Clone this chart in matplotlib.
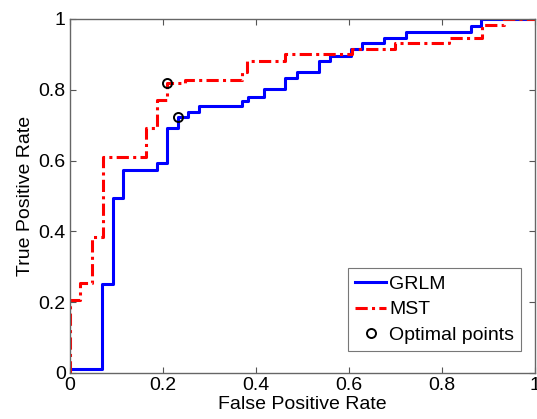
"""ROC curves for GRLM and MST with their optimal operating points."""
import matplotlib
matplotlib.use('Agg')
import matplotlib.pyplot as plt

plt.rcParams['font.family'] = ['Liberation Sans', 'DejaVu Sans']
plt.rcParams['font.size'] = 14

# GRLM curve (step vertices: y holds from x[i] to x[i+1])
grlm_fpr = [0, 0.069, 0.092, 0.114, 0.187, 0.209, 0.232, 0.254, 0.277, 0.370,
            0.383, 0.417, 0.462, 0.488, 0.535, 0.559, 0.604, 0.628, 0.675,
            0.723, 0.862, 0.884, 1.0]
grlm_tpr = [0.011, 0.251, 0.494, 0.573, 0.593, 0.692, 0.723, 0.737, 0.754, 0.768,
            0.780, 0.802, 0.833, 0.850, 0.881, 0.895, 0.915, 0.932, 0.946,
            0.963, 0.980, 1.0, 1.0]

# MST curve
mst_fpr = [0, 0, 0.0215, 0.047, 0.070, 0.163, 0.187, 0.209, 0.247, 0.370,
           0.380, 0.462, 0.606, 0.699, 0.815, 0.886, 0.933, 1.0]
mst_tpr = [0, 0.206, 0.254, 0.384, 0.610, 0.692, 0.771, 0.819, 0.828, 0.850,
           0.881, 0.901, 0.915, 0.932, 0.946, 0.983, 1.0, 1.0]

# Optimal operating points (GRLM, MST)
opt_fpr = [0.232, 0.209]
opt_tpr = [0.723, 0.819]

ticks = [0, 0.2, 0.4, 0.6, 0.8, 1]
tick_labels = ['0', '0.2', '0.4', '0.6', '0.8', '1']

fig = plt.figure(figsize=(5.37, 4.19), dpi=100)
ax = fig.add_axes([0.1304, 0.1098, 0.8659, 0.8449])

ax.plot(grlm_fpr, grlm_tpr, color='#0000ff', linewidth=2.2,
        drawstyle='steps-post', label='GRLM')
ax.plot(mst_fpr, mst_tpr, color='#ff0000', linewidth=2.2,
        drawstyle='steps-post', dashes=(4.0, 1.4, 1.0, 1.4), label='MST')
ax.plot(opt_fpr, opt_tpr, linestyle='none', marker='o', markersize=6.5,
        markerfacecolor='none', markeredgecolor='black', markeredgewidth=1.4,
        label='Optimal points')

ax.set_xlim(0, 1)
ax.set_ylim(0, 1)
ax.set_xticks(ticks)
ax.set_xticklabels(tick_labels)
ax.set_yticks(ticks)
ax.set_yticklabels(tick_labels)
ax.tick_params(direction='in', length=4, width=0.8, color='#555555',
               top=True, right=True, pad=3)
for spine in ax.spines.values():
    spine.set_color('#666666')
    spine.set_linewidth(1.0)

ax.set_xlabel('False Positive Rate', labelpad=1)
ax.set_ylabel('True Positive Rate', labelpad=3)

leg = ax.legend(loc='lower right', bbox_to_anchor=(0.97, 0.062),
                borderaxespad=0, fancybox=False, handlelength=1.6,
                handletextpad=0.15, labelspacing=0.42, borderpad=0.35)
leg.get_frame().set_edgecolor('#555555')
leg.get_frame().set_linewidth(0.8)

fig.savefig('out.png', dpi=100)
